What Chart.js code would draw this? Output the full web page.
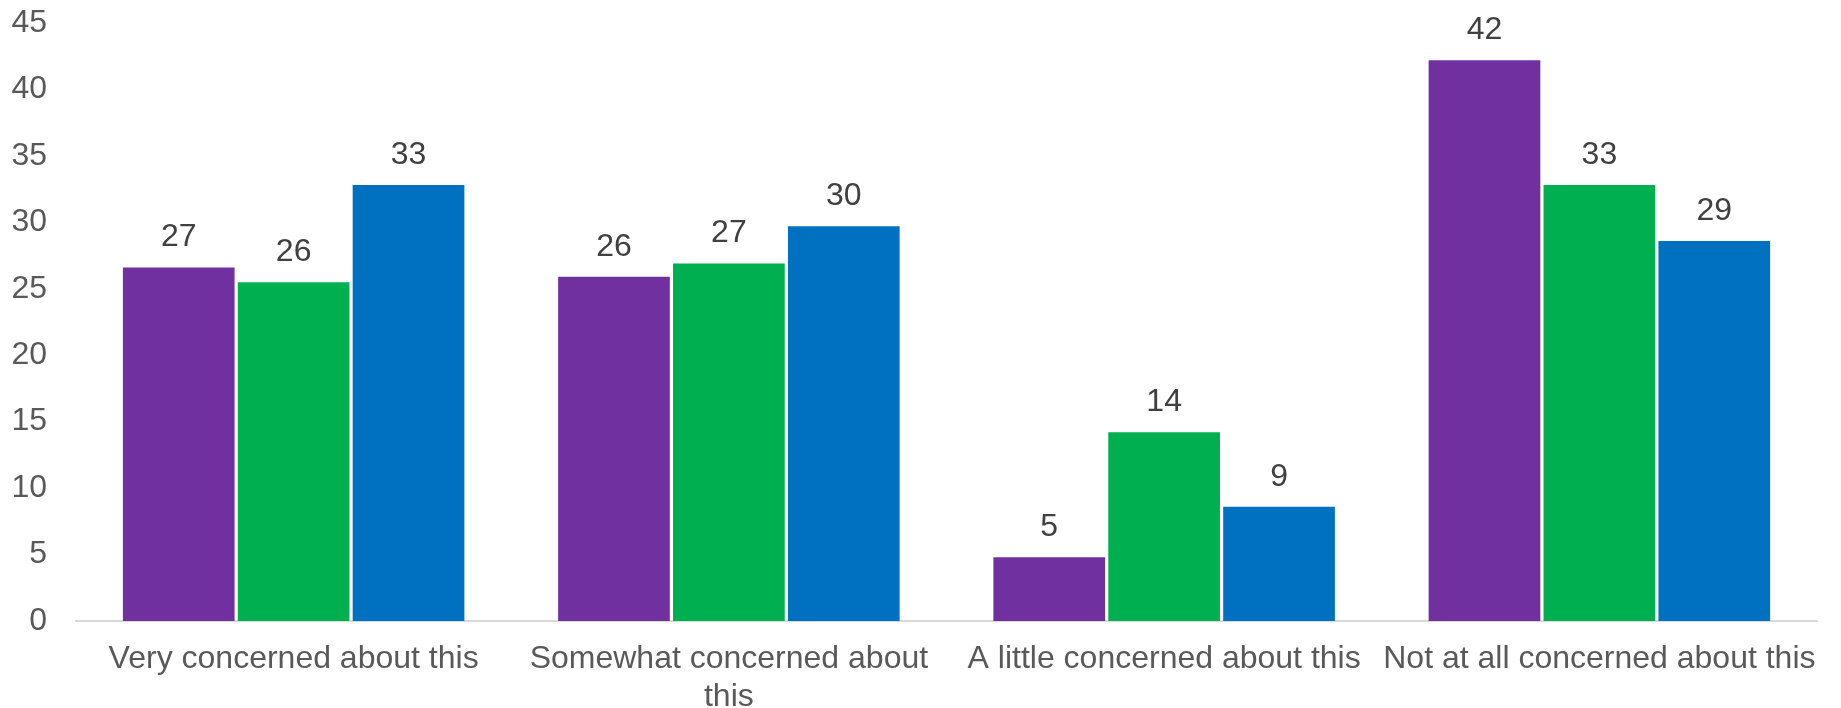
<!DOCTYPE html>
<html>
<head>
<meta charset="utf-8">
<script src="https://cdn.jsdelivr.net/npm/chart.js@4/dist/chart.umd.min.js"></script>
<style>
  html, body { margin: 0; padding: 0; background: #fff; }
  #wrap { width: 1841px; height: 708px; position: relative; }
</style>
</head>
<body>
<div id="wrap"><canvas id="concernChart"></canvas></div>
<script>
const categories = [
    'Very concerned about this',
    ['Somewhat concerned about', 'this'],
    'A little concerned about this',
    'Not at all concerned about this'
];
const purpleValues = [26.6, 25.9, 4.8, 42.2];
const greenValues = [25.5, 26.9, 14.2, 32.8];
const blueValues = [32.8, 29.7, 8.6, 28.6];
const yTicks = [0, 5, 10, 15, 20, 25, 30, 35, 40, 45];

const fontFamily = '"Liberation Sans", Arial, sans-serif';

// draws the rounded value above each bar
const valueLabels = {
    id: 'valueLabels',
    afterDatasetsDraw(chart) {
        const ctx = chart.ctx;
        ctx.save();
        ctx.font = '32px ' + fontFamily;
        ctx.fillStyle = '#404040';
        ctx.textAlign = 'center';
        ctx.textBaseline = 'middle';
        chart.data.datasets.forEach((ds, i) => {
            chart.getDatasetMeta(i).data.forEach((bar, j) => {
                ctx.fillText(String(Math.round(ds.data[j])), bar.x, bar.y - 30);
            });
        });
        ctx.restore();
    }
};

const chart = new Chart(document.getElementById('concernChart').getContext('2d'), {
    type: 'bar',
    data: {
        labels: categories,
        datasets: [
            { data: purpleValues, backgroundColor: '#7030A0' },
            { data: greenValues, backgroundColor: '#00B050' },
            { data: blueValues, backgroundColor: '#0070C0' }
        ]
    },
    options: {
        responsive: true,
        maintainAspectRatio: false,
        animation: false,
        categoryPercentage: 0.792,
        barPercentage: 0.972,
        layout: { padding: { top: 23, right: 24, bottom: 0, left: 0 } },
        plugins: {
            legend: { display: false },
            tooltip: { enabled: false }
        },
        scales: {
            x: {
                grid: { display: false, drawTicks: false },
                border: { display: true, color: '#d9d9d9', width: 2 },
                ticks: {
                    color: '#595959',
                    font: { family: fontFamily, size: 32 },
                    padding: 19,
                    maxRotation: 0,
                    autoSkip: false
                },
                afterFit(scale) {
                    scale.height = 87;
                    scale.paddingLeft = 0;
                    scale.paddingRight = 0;
                }
            },
            y: {
                min: 0,
                max: 45,
                afterBuildTicks(scale) { scale.ticks = yTicks.map(v => ({ value: v })); },
                grid: { display: false, drawTicks: false },
                border: { display: false },
                ticks: {
                    color: '#595959',
                    font: { family: fontFamily, size: 32 },
                    padding: 29
                },
                afterFit(scale) {
                    scale.width = 76;
                    scale.paddingTop = 0;
                    scale.paddingBottom = 0;
                }
            }
        }
    },
    plugins: [valueLabels]
});
</script>
</body>
</html>
